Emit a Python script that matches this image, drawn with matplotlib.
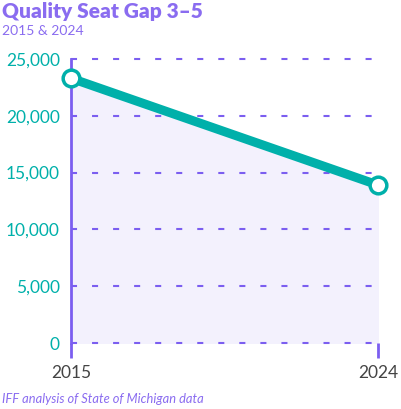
import matplotlib.pyplot as plt
import numpy as np

years = [2015, 2024]
gap = [23300, 13900]
yticks = [0, 5000, 10000, 15000, 20000, 25000]

teal = '#00b0aa'
purple = '#7b5ef0'

fig = plt.figure(figsize=(4.01, 4.09), dpi=100)
ax = fig.add_axes([0.177, 0.161, 0.766, 0.695])

ax.fill_between(years, gap, 0, color='#f3f1fd', zorder=1)
for t in yticks:
    ax.axhline(t, color=purple, lw=1.5, ls=(0, (2.9, 7.2)), zorder=2, clip_on=False)
ax.plot(years, gap, color=teal, lw=6.5, solid_capstyle='butt', zorder=3, clip_on=False)
ax.plot(years, gap, 'o', ms=12, mfc='white', mec=teal, mew=2.5, zorder=4, clip_on=False)

ax.set_xlim(2015, 2024)
ax.set_ylim(0, 25000)
ax.set_xticks(years)
ax.set_xticklabels([str(y) for y in years], fontsize=12.5, color='#444444', family='Lato')
ax.set_yticks(yticks)
ax.set_yticklabels([f'{t:,}' for t in yticks], fontsize=12.5, color=teal, family='Lato')
ax.tick_params(axis='x', length=11, width=2, color=purple, direction='out', pad=5)
ax.tick_params(axis='y', length=0, pad=8)
for s in ['top', 'right', 'bottom']:
    ax.spines[s].set_visible(False)
ax.spines['left'].set_color(purple)
ax.spines['left'].set_linewidth(2)
ax.set_facecolor('none')

fig.text(0.005, 0.995, 'Quality Seat Gap 3\u20135', fontsize=15, fontweight='heavy',
         color='#8a6cf0', family='Lato', va='top')
fig.text(0.005, 0.94, '2015 & 2024', fontsize=10, color='#8a6cf0', family='Lato', va='top')
fig.text(0.005, 0.01, 'IFF analysis of State of Michigan data', fontsize=9.3,
         color='#8a6cf0', family='Lato', style='italic', va='bottom')

fig.savefig('out.png', dpi=100)
